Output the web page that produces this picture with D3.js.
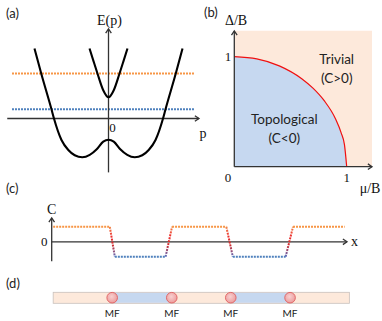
<!DOCTYPE html>
<html>
<head>
<meta charset="utf-8">
<script src="https://cdn.jsdelivr.net/npm/d3@7"></script>
<style>
  body { margin: 0; background: #fff; }
  svg { display: block; }
  .serif { font-family: "Liberation Serif", "DejaVu Serif", serif; fill: #111; }
  .sans { font-family: Lato, "Open Sans", sans-serif; fill: #222; }
</style>
</head>
<body>
<svg id="chart" width="382" height="321"></svg>
<script>
// ---- data ----

// (a) dispersion: right half of each band as (p, E); mirrored about p = 0
const outerBand = [[0, -0.303], [0.07, -0.33], [0.157, -0.44], [0.25, -0.52], [0.35, -0.554],
  [0.45, -0.525], [0.536, -0.45], [0.627, -0.307], [0.727, 0], [0.76, 0.131], [0.897, 0.643], [0.987, 1.0]];
const innerBand = [[0, 0.303], [0.07, 0.404], [0.147, 0.643], [0.2, 0.82], [0.253, 1.0]];
// chemical potential levels (E)
const muLevels = [0.643, 0.131];
const muColors = ['#f79646', '#4f81bd'];

// (b) phase boundary (mu/B, Delta/B)
const phaseBoundary = [[0, 1], [0.2, 0.98], [0.4, 0.917], [0.6, 0.8], [0.7, 0.714], [0.8, 0.6],
  [0.9, 0.436], [0.95, 0.31], [0.98, 0.2], [1, 0]];
const phaseTicks = [0, 1];

// (c) Chern number profile along x
const chernProfile = [[0.05, 1], [1.97, 1], [2.14, -1], [3.86, -1], [4.08, 1], [5.92, 1],
  [6.14, -1], [7.93, -1], [8.18, 1], [9.93, 1]];

// (d) Majorana fermion positions along the wire
const mfPositions = [2.05, 4.07, 6.07, 8.08];
const wireExtent = [0.05, 10.09];

// ---- drawing ----
const svg = d3.select('#chart');
const axisColor = '#333';

// open chevron arrow line
function arrowLine(g, x1, y1, x2, y2) {
  g.append('line')
    .attr('x1', x1).attr('y1', y1).attr('x2', x2).attr('y2', y2)
    .attr('stroke', axisColor).attr('stroke-width', 1.3);
  const a = Math.atan2(y2 - y1, x2 - x1), h = 5, w = 0.6;
  const pts = [[x2 - h * Math.cos(a - w), y2 - h * Math.sin(a - w)], [x2, y2],
    [x2 - h * Math.cos(a + w), y2 - h * Math.sin(a + w)]];
  g.append('path').attr('d', d3.line()(pts))
    .attr('fill', 'none').attr('stroke', axisColor).attr('stroke-width', 1.3);
}

function panelLabel(txt, x, y) {
  svg.append('text').attr('class', 'sans').attr('x', x).attr('y', y)
    .attr('font-size', 13).attr('dominant-baseline', 'central').text(txt);
}

function label(g, cls, txt, x, y, size) {
  g.append('text').attr('class', cls).attr('x', x).attr('y', y)
    .attr('text-anchor', 'middle').attr('dominant-baseline', 'central')
    .attr('font-size', size).text(txt);
}

// ===== (a) =====
const ga = svg.append('g');
const xa = d3.scaleLinear().domain([-1, 1]).range([108.5 - 75, 108.5 + 75]);
const ya = d3.scaleLinear().domain([0, 1]).range([118.5, 48.5]);

panelLabel('(a)', 6, 13);

muLevels.forEach((e, i) => {
  ga.append('line')
    .attr('x1', xa(-1.287)).attr('x2', xa(1.14))
    .attr('y1', ya(e)).attr('y2', ya(e))
    .attr('stroke', muColors[i]).attr('stroke-width', 2)
    .attr('stroke-dasharray', '2,1');
});

arrowLine(ga, xa(-1.35), ya(0), 199, ya(0));
arrowLine(ga, xa(0), ya(-0.77), xa(0), 29);

const mirror = pts => pts.slice(1).reverse().map(([p, e]) => [-p, e]).concat(pts);
const bandLine = d3.line().x(d => xa(d[0])).y(d => ya(d[1])).curve(d3.curveMonotoneX);
[outerBand, innerBand].forEach(b => {
  ga.append('path').attr('d', bandLine(mirror(b)))
    .attr('fill', 'none').attr('stroke', '#000').attr('stroke-width', 2.1);
});

label(ga, 'serif', 'E(p)', xa(0) + 1, 20.5, 14);
label(ga, 'serif', '0', 112.5, 127.5, 13);
label(ga, 'serif', 'p', 203, 133, 14);

// ===== (b) =====
const gb = svg.append('g');
const xb = d3.scaleLinear().domain([0, 1]).range([234.3, 346.7]);
const yb = d3.scaleLinear().domain([0, 1]).range([166.7, 56.7]);

panelLabel('(b)', 204, 12);

gb.append('rect')
  .attr('x', xb(0)).attr('y', yb(1.236))
  .attr('width', xb(1.225) - xb(0)).attr('height', yb(0) - yb(1.236))
  .attr('fill', '#fde9db');

const boundaryLine = d3.line().x(d => xb(d[0])).y(d => yb(d[1])).curve(d3.curveMonotoneX);
gb.append('path')
  .attr('d', boundaryLine(phaseBoundary) + `L${xb(0)},${yb(0)}Z`)
  .attr('fill', '#c6d8f0');
gb.append('path')
  .attr('d', boundaryLine(phaseBoundary))
  .attr('fill', 'none').attr('stroke', '#f01010').attr('stroke-width', 1.2);

arrowLine(gb, xb(0), yb(0), 372, yb(0));
arrowLine(gb, xb(0), yb(0), xb(0), 31);

label(gb, 'serif', 'Δ/B', 236, 20, 14);
label(gb, 'serif', phaseTicks[1], 228, yb(1), 13);
label(gb, 'serif', phaseTicks[0], 228, 177, 13);
label(gb, 'serif', phaseTicks[1], xb(1), 177, 13);
label(gb, 'serif', 'μ/B', 370, 188, 14);

[['Trivial', 336.7, 59.3], ['(C>0)', 336.7, 78.3], ['Topological', 284.3, 119.3], ['(C<0)', 284.3, 137.7]]
  .forEach(([t, x, y]) => label(gb, 'sans', t, x, y, 13.5));

// ===== (c) =====
const gc = svg.append('g');
const xc = d3.scaleLinear().domain([0, 10]).range([51.7, 346.7]);
const yc = d3.scaleLinear().domain([-1, 1]).range([256.8, 226.8]);

panelLabel('(c)', 6, 188);

const defs = svg.append('defs');
const grad = defs.append('linearGradient').attr('id', 'chernGrad')
  .attr('gradientUnits', 'userSpaceOnUse')
  .attr('x1', 0).attr('x2', 0).attr('y1', yc(1)).attr('y2', yc(-1));
[[0, '#f08a4a'], [0.3, '#ee3030'], [0.6, '#d42a2a'], [1, '#5a6fc0']].forEach(([o, c]) => {
  grad.append('stop').attr('offset', o).attr('stop-color', c);
});

arrowLine(gc, xc(0), yc(-1.3), xc(0), 218);
arrowLine(gc, xc(0), yc(0), 347, yc(0));

d3.pairs(chernProfile).forEach(([a, b]) => {
  const color = a[1] !== b[1] ? 'url(#chernGrad)' : (a[1] > 0 ? muColors[0] : muColors[1]);
  gc.append('line')
    .attr('x1', xc(a[0])).attr('y1', yc(a[1])).attr('x2', xc(b[0])).attr('y2', yc(b[1]))
    .attr('stroke', color).attr('stroke-width', 2).attr('stroke-dasharray', '2,1');
});

label(gc, 'serif', 'C', xc(0), 209, 14);
label(gc, 'serif', '0', 44.3, yc(0), 13);
label(gc, 'serif', 'x', 354.5, yc(0), 14);

// ===== (d) =====
const gd = svg.append('g');
const wireY = 292.3, wireH = 11;

panelLabel('(d)', 6, 282.7);

gd.append('rect')
  .attr('x', xc(wireExtent[0])).attr('y', wireY)
  .attr('width', xc(wireExtent[1]) - xc(wireExtent[0])).attr('height', wireH)
  .attr('fill', '#fde9db').attr('stroke', '#c8c0bc').attr('stroke-width', 0.8);

d3.pairs(mfPositions).filter((_, i) => i % 2 === 0).forEach(([a, b]) => {
  gd.append('rect')
    .attr('x', xc(a)).attr('y', wireY + 0.5)
    .attr('width', xc(b) - xc(a)).attr('height', wireH - 1)
    .attr('fill', '#c6d8f0');
});

const mfGrad = defs.append('radialGradient').attr('id', 'mfGrad')
  .attr('cx', '45%').attr('cy', '40%').attr('r', '60%');
mfGrad.append('stop').attr('offset', 0).attr('stop-color', '#f8d0d0');
mfGrad.append('stop').attr('offset', 1).attr('stop-color', '#ec9c9c');

mfPositions.forEach(p => {
  gd.append('circle')
    .attr('cx', xc(p)).attr('cy', 297.7).attr('r', 5.3)
    .attr('fill', 'url(#mfGrad)').attr('stroke', '#e06060').attr('stroke-width', 0.9);
  label(gd, 'sans', 'MF', xc(p), 313.3, 10);
});
</script>
</body>
</html>
